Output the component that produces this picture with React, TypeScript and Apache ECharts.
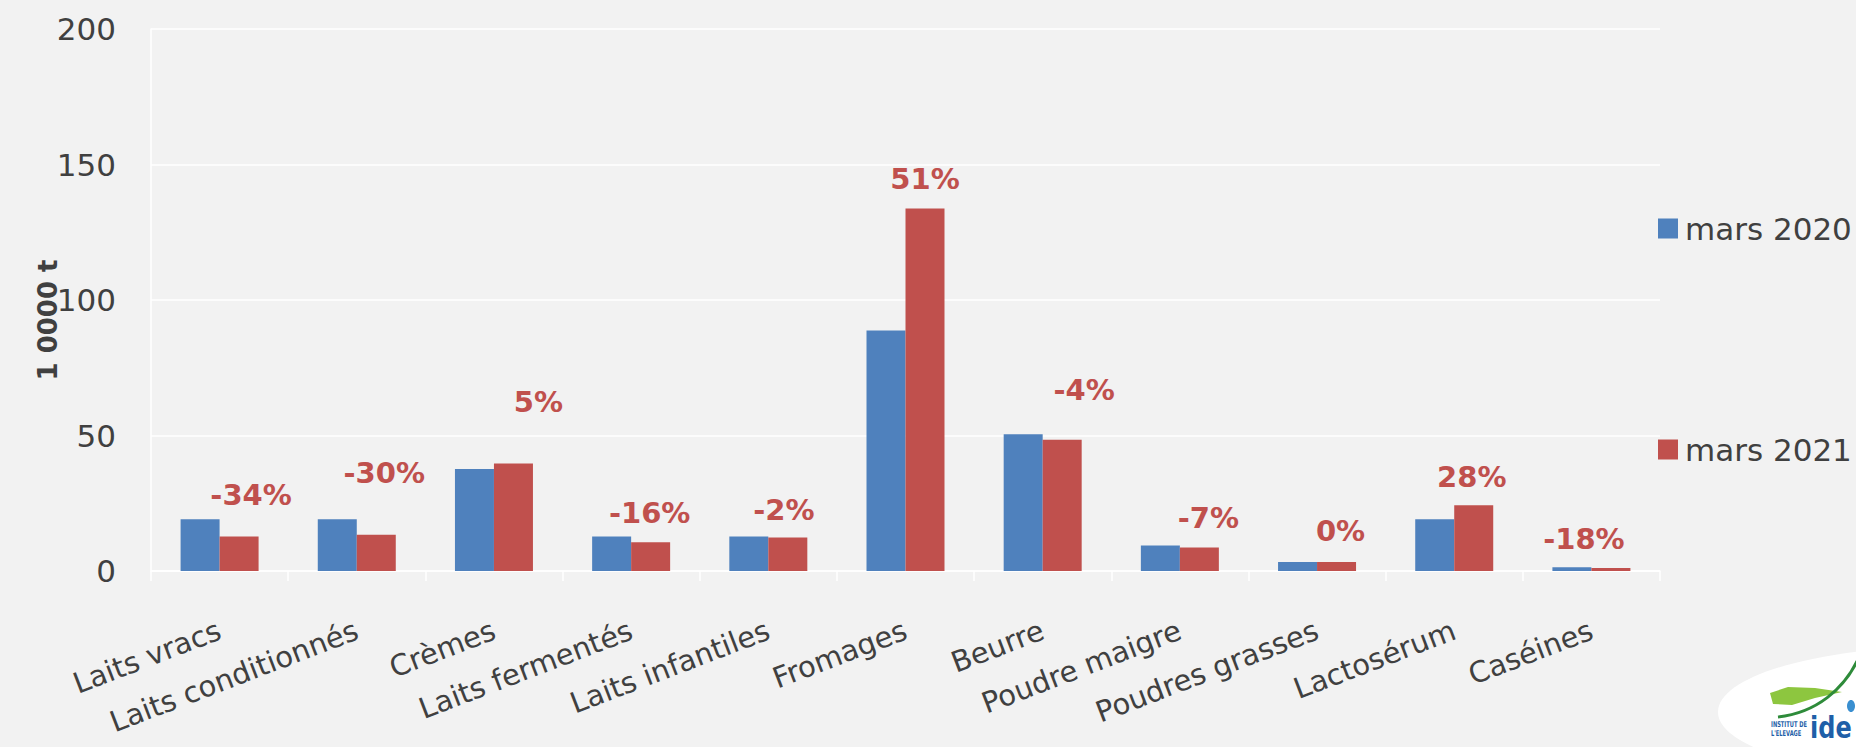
import React, { useEffect, useRef } from "react";
import * as echarts from "echarts";

const categories = [
  "Laits vracs",
  "Laits conditionnés",
  "Crèmes",
  "Laits fermentés",
  "Laits infantiles",
  "Fromages",
  "Beurre",
  "Poudre maigre",
  "Poudres grasses",
  "Lactosérum",
  "Caséines",
];
const mars2020 = [19.1, 19.1, 37.6, 12.7, 12.7, 88.7, 50.5, 9.4, 3.3, 19.1, 1.4];
const mars2021 = [12.7, 13.4, 39.7, 10.6, 12.4, 133.8, 48.4, 8.7, 3.3, 24.3, 1.15];
const pctChange = ["-34%", "-30%", "5%", "-16%", "-2%", "51%", "-4%", "-7%", "0%", "28%", "-18%"];
const seriesNames = ["mars 2020", "mars 2021"];
const yTicks = { min: 0, max: 200, interval: 50 };
const yName = "1 0000 t";

// label placement offsets (layout only)
const labelOffsets = [
  [12, -22], [8, -42], [25, -42], [-1, -10], [-4, -8], [0, -10],
  [22, -30], [9, -10], [4, -12], [-2, -9], [-27, -9],
];

const FONT = "DejaVu Sans";
const BLUE = "#4f81bd";
const RED = "#c0504d";
const TXT = "#404040";

export default function App() {
  const ref = useRef<HTMLDivElement>(null);
  useEffect(() => {
    if (!ref.current) return;
    const chart = echarts.init(ref.current, null, { renderer: "svg" });
    chart.setOption({
      animation: false,
      backgroundColor: "#f2f2f2",
      grid: { left: 151, right: 196, top: 29, bottom: 176, containLabel: false },
      legend: {
        orient: "vertical",
        left: 1653,
        top: 208,
        itemWidth: 20,
        itemHeight: 20,
        itemGap: 190,
        icon: "rect",
        data: seriesNames,
        textStyle: { fontSize: 31, color: TXT, fontFamily: FONT, padding: [0, 0, 0, 2] },
      },
      xAxis: {
        type: "category",
        data: categories,
        axisLine: { show: true, lineStyle: { color: "#ffffff", width: 1.5 } },
        axisTick: { show: true, length: 10, lineStyle: { color: "#ffffff", width: 1.5 } },
        axisLabel: {
          rotate: 21,
          margin: 58,
          fontSize: 29,
          color: TXT,
          fontFamily: FONT,
          interval: 0,
        },
      },
      yAxis: {
        type: "value",
        min: yTicks.min,
        max: yTicks.max,
        interval: yTicks.interval,
        axisLine: { show: true, lineStyle: { color: "#ffffff", width: 1.5 } },
        axisTick: { show: false },
        splitLine: { show: true, lineStyle: { color: "#ffffff", width: 1.5 } },
        axisLabel: { fontSize: 31, color: TXT, fontFamily: FONT, margin: 35 },
      },
      series: [
        {
          name: seriesNames[0],
          type: "bar",
          data: mars2020,
          barWidth: 39,
          barGap: "0%",
          itemStyle: { color: BLUE },
        },
        {
          name: seriesNames[1],
          type: "bar",
          data: mars2021.map((v, i) => ({
            value: v,
            label: {
              show: true,
              position: "top",
              offset: labelOffsets[i],
              formatter: pctChange[i],
            },
          })),
          barWidth: 39,
          itemStyle: { color: RED },
          label: {
            show: true,
            position: "top",
            color: RED,
            fontSize: 29,
            fontWeight: "bold",
            fontFamily: FONT,
          },
        },
      ],
      graphic: [
        {
          type: "text",
          x: 48,
          y: 320,
          rotation: Math.PI / 2,
          style: {
            text: yName,
            font: `bold 26px "${FONT}"`,
            fill: TXT,
            align: "center",
            verticalAlign: "middle",
            textAlign: "center",
            textVerticalAlign: "middle",
          },
        },
        {
          type: "ellipse",
          shape: { cx: 1950, cy: 712, rx: 232, ry: 66 },
          style: { fill: "#ffffff" },
        },
        {
          type: "polygon",
          shape: {
            points: [
              [1770, 693], [1788, 687], [1815, 688], [1842, 692],
              [1815, 698], [1792, 705], [1773, 704],
            ],
          },
          style: { fill: "#8dc63f" },
        },
        {
          type: "bezierCurve",
          shape: { x1: 1778, y1: 717, cpx1: 1815, cpy1: 713, cpx2: 1845, cpy2: 690, x2: 1860, y2: 655 },
          style: { stroke: "#2e8b3a", lineWidth: 3, fill: null },
        },
        {
          type: "ellipse",
          shape: { cx: 1851, cy: 706, rx: 4, ry: 6 },
          style: { fill: "#3a8fd0" },
        },
        {
          type: "text",
          x: 1771,
          y: 721,
          scaleX: 0.64,
          style: { text: "INSTITUT DE", font: 'bold 8px "DejaVu Sans"', fill: "#1f5fa8" },
        },
        {
          type: "text",
          x: 1771,
          y: 730,
          scaleX: 0.64,
          style: { text: "L'ELEVAGE", font: 'bold 8px "DejaVu Sans"', fill: "#1f5fa8" },
        },
        {
          type: "text",
          x: 1810,
          y: 712,
          scaleX: 0.8,
          style: { text: "ide", font: 'bold 30px "DejaVu Sans"', fill: "#1f5fa8" },
        },
      ],
    });
    return () => chart.dispose();
  }, []);
  return (
    <div
      ref={ref}
      style={{ position: "fixed", left: 0, top: 0, width: 1856, height: 747 }}
    />
  );
}
